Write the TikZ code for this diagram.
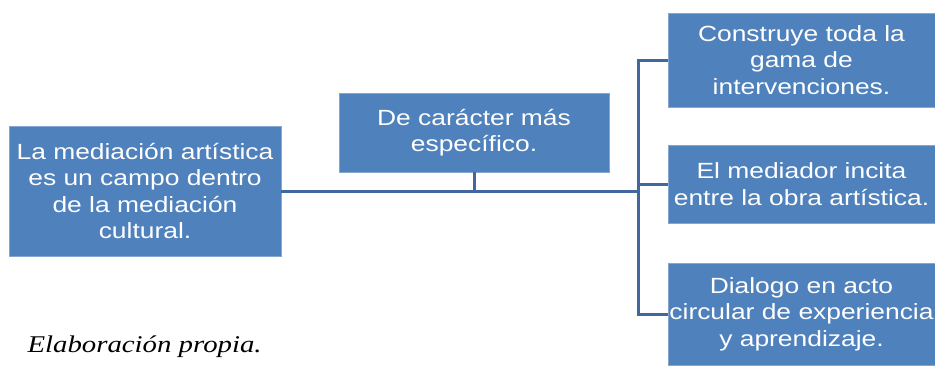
\documentclass[tikz,border=0pt]{standalone}
\usepackage{fontspec}
\setmainfont[FakeStretch=1.2]{Liberation Serif}
\newfontfamily\cajafont[FakeStretch=1.2]{Liberation Sans}
\usepackage{tikz}
\usetikzlibrary{calc,positioning}
\definecolor{cajaazul}{HTML}{4F81BD}
\definecolor{lineaazul}{HTML}{41689A}
\tikzset{
    mycaja/.style={rectangle,fill=cajaazul,draw=cajaazul!70!white,line width=0.6pt,text=white,
        align=center,inner sep=0pt,font=\cajafont\fontsize{22}{26.5}\selectfont},
    mylinea/.style={line width=3pt,draw=lineaazul},
    every node/.style={font=\small}
}
\begin{document}
\begin{tikzpicture}[x=1pt,y=-1pt]
          % marco con las proporciones de la figura original
          \useasboundingbox (0,0) rectangle (935,365);
          \node[mycaja,minimum width=272pt,minimum height=130pt] (izq) at (145,191)
              {La mediación artística\\es un campo dentro\\de la mediación\\cultural.};
          \node[mycaja,minimum width=270pt,minimum height=79pt] (medio) at (474,132.5)
              {De carácter más\\específico.};
          \node[mycaja,minimum width=267pt,minimum height=94pt] (der1) at (801.5,60)
              {Construye toda la\\gama de\\intervenciones.};
          \node[mycaja,minimum width=267pt,minimum height=78pt] (der2) at (801.5,184)
              {El mediador incita\\entre la obra artística.};
          \node[mycaja,minimum width=267pt,minimum height=102pt] (der3) at (801.5,314)
              {Dialogo en acto\\circular de experiencia\\y aprendizaje.};
          \coordinate (nudo) at (639,191);
          \draw[mylinea] (izq.east) -- (nudo);
          \draw[mylinea] (medio.south) -- (medio.south |- nudo);
          \draw[mylinea] (der1.west) -- ++(-29,0) |- (der3.west);
          \draw[mylinea] (der2.west) -- (der2.west -| nudo);
          \node[font=\itshape\fontsize{24}{28}\selectfont,anchor=west] (fuente) at (24,347) {Elaboración propia.};
        \end{tikzpicture}
\end{document}
